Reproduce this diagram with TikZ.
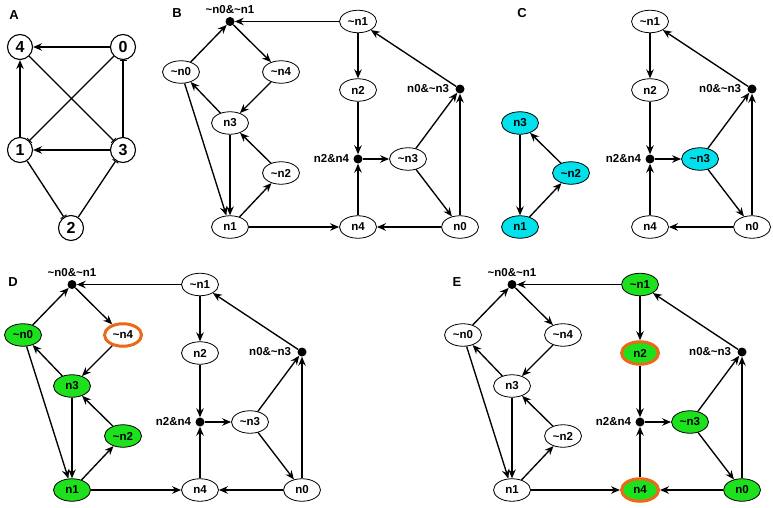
\documentclass[tikz,border=0pt]{standalone}
\usepackage{fontspec}
\setmainfont{Liberation Sans}
\usetikzlibrary{shapes.geometric,arrows.meta}
\newcommand\tld{\textasciitilde}
\definecolor{gr}{RGB}{30,225,30}
\definecolor{cy}{RGB}{0,225,235}
\definecolor{orng}{RGB}{235,105,25}

\newcommand\leftcore[1]{%
 \node[st,pnthree] (#1n3) at (230,123) {n3};
 \node[st,tntwo] (#1tn2) at (281,173) {\tld n2};
 \node[st,pnone] (#1n1) at (230,227) {n1};
 \draw[arr] (#1n3) -- (#1n1);
 \draw[arr] (#1n1) -- (#1tn2);
 \draw[arr] (#1tn2) -- (#1n3);
}
\newcommand\leftextra[1]{%
 \node[st,tnzero] (#1tn0) at (181,72) {\tld n0};
 \node[st,tnfour] (#1tn4) at (281,72) {\tld n4};
 \node[dot,label={[lab,label distance=3pt]above:\tld n0\&\tld n1}] (#1d1) at (230,21.5) {};
 \draw[arr] (#1tn0) -- (#1d1);
 \draw[arr] (#1d1) -- (#1tn4);
 \draw[arr] (#1tn4) -- (#1n3);
 \draw[arr] (#1n3) -- (#1tn0);
 \draw[arr] (#1tn0) -- (#1n1);
}
\newcommand\rightpart[1]{%
 \node[st,tnone] (#1tn1) at (358,21.5) {\tld n1};
 \node[st,pntwo] (#1n2) at (358,90) {n2};
 \node[dot,label={[lab,label distance=4pt]left:n2\&n4}] (#1d2) at (358,159) {};
 \node[st,tnthree] (#1tn3) at (408,159) {\tld n3};
 \node[dot,label={[lab,label distance=6pt]left:n0\&\tld n3}] (#1d3) at (460,89) {};
 \node[st,pnfour] (#1n4) at (358,227) {n4};
 \node[st,pnzero] (#1n0) at (460,227) {n0};
 \draw[arr] (#1tn1) -- (#1n2);
 \draw[arr] (#1n2) -- (#1d2);
 \draw[arr] (#1n4) -- (#1d2);
 \draw[arr] (#1d2) -- (#1tn3);
 \draw[arr] (#1tn3) -- (#1d3);
 \draw[arr] (#1tn3) -- (#1n0);
 \draw[arr] (#1n0) -- (#1d3);
 \draw[arr] (#1d3) -- (#1tn1);
 \draw[arr] (#1n0) -- (#1n4);
}
\newcommand\bridge[1]{%
 \draw[arr] (#1tn1) -- (#1d1);
 \draw[arr] (#1n1) -- (#1n4);
}

\begin{document}
\begin{tikzpicture}[x=1pt,y=-1pt,
 every node/.style={font=\bfseries\fontsize{11.5}{13}\selectfont},
 st/.style={ellipse, draw, line width=0.8pt, fill=white, inner sep=1pt, minimum width=37pt, minimum height=22.5pt},
 dot/.style={circle, fill=black, inner sep=0pt, minimum size=9pt},
 arr/.style={-{Stealth[length=9pt,width=7.5pt,inset=3pt]}, line width=1.35pt},
 barr/.style={-{Bar[width=7pt,line width=0.9pt]}, line width=1.35pt},
 lab/.style={inner sep=0pt},
 circ/.style={circle, draw, line width=1.1pt, minimum size=25pt, inner sep=0pt, font=\bfseries\fontsize{16}{16}\selectfont},
 plabel/.style={font=\bfseries\fontsize{13}{14}\selectfont},
 grn/.style={fill=gr},
 cyn/.style={fill=cy},
 hl/.style={draw=orng, line width=3pt},
 pnzero/.style={}, pnone/.style={}, pntwo/.style={}, pnthree/.style={}, pnfour/.style={},
 tnzero/.style={}, tnone/.style={}, tntwo/.style={}, tnthree/.style={}, tnfour/.style={}
]
\useasboundingbox (0,0) rectangle (773,508);

% Panel A
\node[plabel] (lA) at (14,15) {A};
\node[circ] (a4) at (20,47) {4};
\node[circ] (a0) at (123,47) {0};
\node[circ] (a1) at (20,150) {1};
\node[circ] (a3) at (123,150) {3};
\node[circ] (a2) at (71,228) {2};
\draw[arr] (a0) -- (a4);
\draw[arr] (a1) -- (a4);
\draw[arr] (a3) -- (a1);
\draw[barr] (a0) -- (a1);
\draw[barr] (a4) -- (a3);
\draw[barr] (a3) -- (a0);
\draw[barr] (a1) -- (a2);
\draw[barr] (a2) -- (a3);

% Panel B
\node[plabel] (lB) at (177,13) {B};
\leftcore{b}
\leftextra{b}
\rightpart{b}
\bridge{b}

% Panel C
\node[plabel] (lC) at (522,13) {C};
\begin{scope}[shift={(290,0)}, pnthree/.style={cyn}, tntwo/.style={cyn}, pnone/.style={cyn}]
\leftcore{c}
\end{scope}
\begin{scope}[shift={(292,0)}, tnthree/.style={cyn}]
\rightpart{c}
\end{scope}

% Panel D
\node[plabel] (lD) at (13,282) {D};
\begin{scope}[shift={(-158,263)}, tnzero/.style={grn}, pnthree/.style={grn}, tntwo/.style={grn}, pnone/.style={grn}, tnfour/.style={hl}]
\leftcore{d}
\leftextra{d}
\rightpart{d}
\bridge{d}
\end{scope}

% Panel E
\node[plabel] (lE) at (457,282) {E};
\begin{scope}[shift={(282,263)}, tnone/.style={grn}, pntwo/.style={grn,hl}, tnthree/.style={grn}, pnzero/.style={grn}, pnfour/.style={grn,hl}]
\leftcore{e}
\leftextra{e}
\rightpart{e}
\bridge{e}
\end{scope}
\end{tikzpicture}
\end{document}
